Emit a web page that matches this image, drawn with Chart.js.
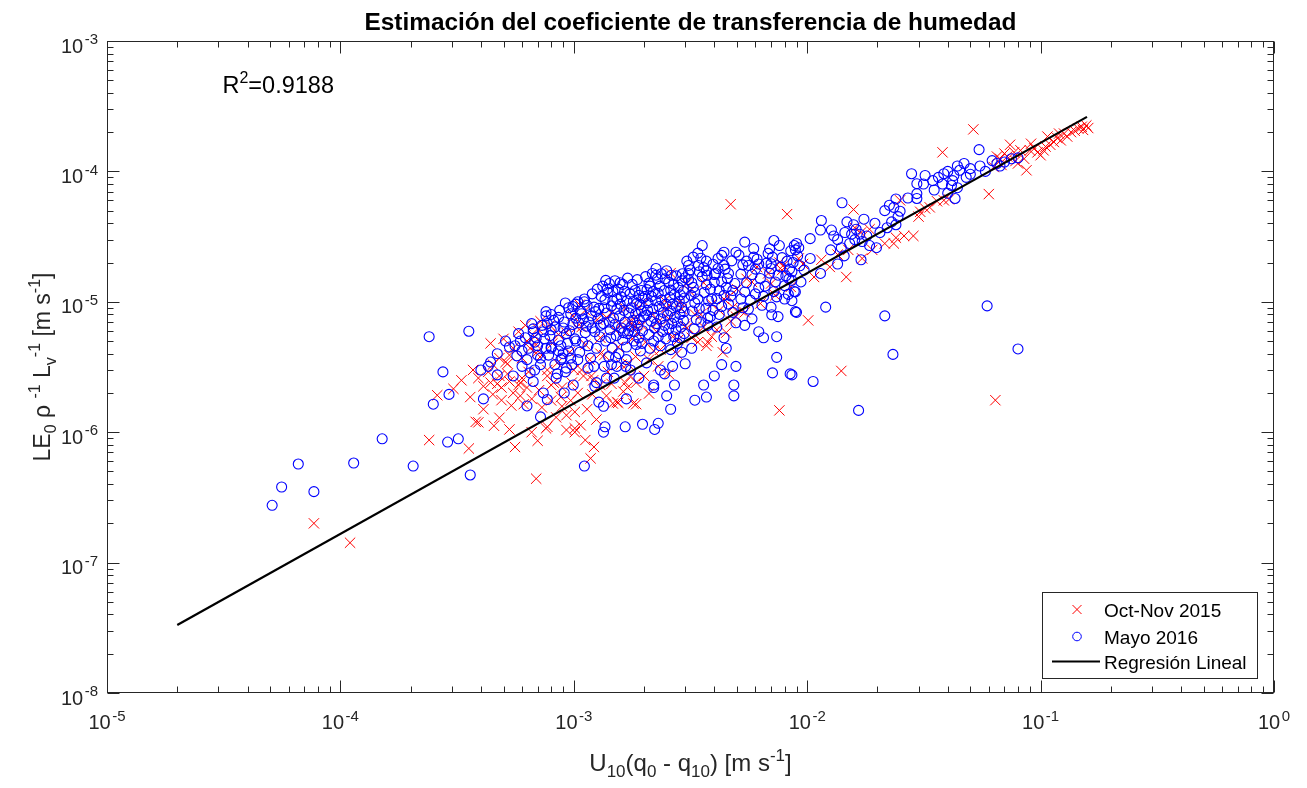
<!DOCTYPE html>
<html>
<head>
<meta charset="utf-8">
<script src="https://cdn.jsdelivr.net/npm/chart.js@4/dist/chart.umd.min.js"></script>
<style>
  html, body { margin: 0; padding: 0; background: #ffffff; }
  #wrap { width: 1307px; height: 788px; }
</style>
</head>
<body>
<div id="wrap"><canvas id="chart" width="1307" height="788"></canvas></div>
<script>
// ---- Axis ranges and tick labels (powers of ten) ----
const xTickExponents = [-5, -4, -3, -2, -1, 0];
const yTickExponents = [-8, -7, -6, -5, -4, -3];

// ---- Regression line end points ----
const regX = [2.0e-5, 0.158];
const regY = [3.32e-8, 2.62e-4];
const rSquared = '0.9188';

// ---- Oct-Nov 2015 campaign: [U10(q0-q10), LE0/(rho Lv)] ----
const octNov2015 = [
  [7.7e-5,2.0e-7],[1.1e-4,1.42e-7],[2.4e-4,8.7e-7],[2.6e-4,1.92e-6],[3.05e-4,2.15e-6],
  [3.7e-4,3.0e-6],[4.1e-4,2.25e-6],[3.6e-4,1.86e-6],[4.1e-4,1.5e-6],[4.5e-4,1.95e-6],[4.9e-4,2.2e-6],
  [4.9e-4,1.76e-6],[3.8e-4,1.2e-6],[3.9e-4,1.19e-6],[4.55e-4,1.12e-6],[4.8e-4,1.29e-6],[5.3e-4,1.05e-6],
  [3.55e-4,7.5e-7],[5.6e-4,7.7e-7],[6.6e-4,1.0e-6],[7.0e-4,8.6e-7],[7.6e-4,1.07e-6],[6.9e-4,4.4e-7],
  [9.3e-4,1.04e-6],[1.01e-3,1.07e-6],[1.07e-3,1.13e-6],[1.12e-3,8.7e-7],[1.22e-3,7.7e-7],[1.18e-3,6.3e-7],
  [8.0e-4,2.3e-6],[8.8e-4,1.86e-6],[9.8e-4,2.4e-6],[1.08e-3,3.0e-6],[1.1e-3,2.7e-6],[1.19e-3,2.7e-6],
  [1.53e-3,1.7e-6],[1.63e-3,2.05e-6],[7.2e-4,7.1e-6],[7.0e-4,6.2e-6],[6.3e-4,5.0e-6],[6.5e-4,4.4e-6],
  [5.3e-4,3.9e-6],[4.8e-4,3.7e-6],[5.1e-4,3.45e-6],[6.0e-4,2.6e-6],[5.9e-4,2.4e-6],[6.9e-4,4.05e-6],
  [7.7e-4,3.0e-6],[8.2e-4,2.4e-6],
  [7.7e-4,1.1e-6],[1.01e-3,1.0e-6],[1.01e-3,1.43e-6],[6.1e-4,1.64e-6],[8.9e-4,1.58e-6],[1.47e-3,1.66e-6],
  [1.55e-3,1.68e-6],[1.85e-3,1.64e-6],
  [4.7e-3,5.6e-5],[8.2e-3,4.7e-5],[2.6e-3,1.66e-5],[7.6e-3,1.47e-6],[1.8e-3,1.66e-6],[2.1e-3,1.98e-6],
  [4.35e-3,4.1e-6],[3.75e-3,4.9e-6],[3.4e-3,4.9e-6],[3.2e-3,5.3e-6],[2.2e-3,4.2e-6],[2.55e-3,2.8e-6],
  [1.7e-3,3.35e-6],[1.75e-3,2.7e-6],[1.85e-3,2.4e-6],[2.85e-3,1.0e-5],[3.05e-3,1.38e-5],[3.6e-3,1.4e-5],
  [4.6e-3,1.09e-5],[4.8e-3,9.1e-6],[5.5e-3,1.5e-5],[6.1e-3,1.85e-5],[7.0e-3,1.38e-5],[7.6e-3,2.0e-5],
  [7.8e-3,1.75e-5],[5.2e-3,8.6e-6],[1.8e-3,6.8e-6],[1.85e-3,7.7e-6],[3.05e-3,6.3e-6],[4.95e-3,7.7e-6],
  [1.12e-3,8.6e-6],[1.03e-3,6.4e-6],[1.3e-3,4.0e-6],[1.58e-3,6.6e-6],[1.83e-3,6.4e-6],[2.0e-3,1.0e-5],
  [6.9e-4,4.7e-6],[5.2e-4,3.35e-6],
  [5.5e-4,4.4e-6],[6.0e-4,3.7e-6],[6.4e-4,2.9e-6],[5.8e-4,2.3e-6],[6.8e-4,5.4e-6],[7.3e-4,3.9e-6],
  [7.7e-4,2.7e-6],[8.1e-4,4.8e-6],[8.5e-4,3.4e-6],[8.9e-4,2.2e-6],[9.3e-4,5.8e-6],[9.6e-4,4.1e-6],
  [1.0e-3,3.0e-6],[1.04e-3,2.0e-6],[1.08e-3,6.4e-6],[1.12e-3,4.7e-6],[1.17e-3,3.6e-6],[1.21e-3,2.5e-6],
  [1.26e-3,7.3e-6],[1.3e-3,5.3e-6],[1.35e-3,3.9e-6],[1.4e-3,2.9e-6],[1.45e-3,8.2e-6],[1.5e-3,6.1e-6],
  [1.55e-3,4.5e-6],[1.6e-3,3.3e-6],[1.66e-3,2.4e-6],[1.72e-3,7.0e-6],[1.78e-3,5.2e-6],[1.84e-3,3.8e-6],
  [1.9e-3,9.1e-6],[1.96e-3,6.6e-6],[2.03e-3,4.9e-6],[2.1e-3,3.6e-6],[2.18e-3,8.0e-6],[2.26e-3,5.9e-6],
  [2.35e-3,4.3e-6],[2.45e-3,1.02e-5],[2.55e-3,7.4e-6],[2.65e-3,5.4e-6],[2.76e-3,4.0e-6],[2.9e-3,8.8e-6],
  [3.0e-3,6.5e-6],[3.15e-3,1.2e-5],[3.3e-3,5.6e-6],[3.5e-3,8.0e-6],[3.7e-3,4.6e-6],[3.9e-3,9.6e-6],
  [4.1e-3,6.1e-6],[4.4e-3,1.05e-5],[4.7e-3,7.1e-6],[5.0e-3,1.25e-5],[5.4e-3,8.3e-6],[5.8e-3,1.42e-5],
  [6.3e-3,9.7e-6],[6.8e-3,1.65e-5],[7.3e-3,1.12e-5],[7.9e-3,1.9e-5],[8.5e-3,1.3e-5],[9.2e-3,2.15e-5],
  [5.0e-4,5.2e-6],[4.5e-4,3.3e-6],[4.8e-4,2.7e-6],
  [3.9e-4,2.6e-6],[4.3e-4,2.9e-6],[4.4e-4,2.4e-6],[4.7e-4,2.35e-6],[5.2e-4,2.8e-6],[5.5e-4,2.0e-6],
  [5.4e-4,1.6e-6],[5.9e-4,1.9e-6],[6.3e-4,2.2e-6],[6.6e-4,1.8e-6],[7.1e-4,2.1e-6],[7.3e-4,1.55e-6],
  [8.4e-4,1.3e-6],[8.0e-4,1.75e-6],[9.3e-4,1.35e-6],[9.7e-4,1.75e-6],[1.14e-3,1.5e-6],[1.2e-3,1.95e-6],
  [1.3e-3,2.3e-6],[1.38e-3,1.9e-6],[1.45e-3,2.35e-6],[1.25e-3,1.25e-6],[1.7e-3,2.2e-6],[2.0e-3,2.7e-6],
  [2.3e-3,3.2e-6],[4.4e-4,4.8e-6],[5.8e-4,5.9e-6],[6.2e-4,6.6e-6],[7.9e-4,6.6e-6],[8.6e-4,5.6e-6],
  [9.9e-4,7.8e-6],[1.06e-3,9.5e-6],[1.38e-3,7.6e-6],[1.66e-3,8.9e-6],[1.88e-3,5.7e-6],[2.3e-3,7.0e-6],
  [2.5e-3,9.0e-6],[2.8e-3,5.1e-6],[3.3e-3,8.0e-6],[3.6e-3,6.4e-6],[3.9e-3,5.4e-6],[4.2e-3,8.6e-6],
  [4.5e-3,5.8e-6],[5.3e-4,2.45e-6],[3.3e-4,2.5e-6],
  [3.8e-2,1.4e-4],[1.58e-2,5.1e-5],[1.47e-2,1.55e-5],[1.01e-2,7.2e-6],[1.4e-2,2.95e-6],[2.5e-2,6.0e-5],
  [3.0e-2,4.5e-5],[3.05e-2,4.9e-5],[2.6e-2,3.2e-5],[2.85e-2,3.2e-5],[2.4e-2,3.1e-5],[2.35e-2,2.8e-5],
  [2.15e-2,2.8e-5],[1.9e-2,2.5e-5],[1.72e-2,2.15e-5],[1.5e-2,2.5e-5],[1.25e-2,1.85e-5],[1.07e-2,1.55e-5],
  [9.6e-3,1.95e-5],[1.15e-2,2.1e-5],[3.2e-2,5.2e-5],[3.35e-2,5.3e-5],[3.85e-2,6.0e-5],[4.05e-2,6.1e-5],
  [3.6e-2,5.9e-5],[1.85e-2,3.6e-5],[1.7e-2,3.4e-5],[1.6e-2,3.7e-5],[1.35e-2,2.3e-5],
  [5.15e-2,2.1e-4],[6.0e-2,6.7e-5],[8.7e-2,1.02e-4],[8.0e-2,1.15e-4],[7.0e-2,1.37e-4],[6.7e-2,1.25e-4],
  [8.2e-2,1.45e-4],[9.1e-2,1.63e-4],[9.7e-2,1.4e-4],[1.0e-1,1.33e-4],[1.03e-1,1.45e-4],[1.07e-1,1.85e-4],
  [1.14e-1,1.68e-4],[1.22e-1,1.73e-4],[1.26e-1,1.95e-4],[1.35e-1,2.0e-4],[1.45e-1,2.13e-4],[1.6e-1,2.15e-4],
  [1.57e-1,2.25e-4],[7.4e-2,1.6e-4],[6.3e-2,1.08e-4],[7.2e-2,1.3e-4],[7.7e-2,1.4e-4],[6.5e-2,1.3e-4],
  [8.5e-2,1.25e-4],[9.4e-2,1.5e-4],[1.1e-1,1.6e-4],[1.18e-1,1.8e-4],[1.3e-1,1.85e-4],[1.4e-1,2.05e-4],
  [1.5e-1,2.2e-4],[1.2e-1,1.95e-4],[1.05e-1,1.55e-4],[9.0e-2,1.45e-4],[1.52e-1,2.08e-4],[7.8e-2,1.2e-4],
  [6.8e-2,1.12e-4],
  [6.4e-2,1.76e-6]
];

// ---- Mayo 2016 campaign ----
const mayo2016 = [
  [5.1e-5,2.75e-7],[5.6e-5,3.8e-7],[6.6e-5,5.7e-7],[7.7e-5,3.5e-7],[1.14e-4,5.8e-7],[1.51e-4,8.9e-7],
  [2.05e-4,5.5e-7],[2.5e-4,1.64e-6],[2.88e-4,8.4e-7],[3.2e-4,8.9e-7],[2.4e-4,5.4e-6],[2.75e-4,2.9e-6],
  [2.92e-4,1.95e-6],
  [3.55e-4,5.95e-6],[1.37e-3,1.46e-5],[3.6e-4,4.7e-7],[4.1e-4,1.8e-6],[6.3e-4,1.59e-6],[7.2e-4,1.31e-6],
  [1.11e-3,5.5e-7],[1.36e-3,1.1e-6],[1.34e-3,1.0e-6],[1.66e-3,1.1e-6],[1.34e-3,1.58e-6],[9.2e-4,9.8e-6],
  [1.11e-3,1.0e-5],[7.6e-4,7.8e-6],[5.8e-4,5.7e-6],[5.1e-4,5.0e-6],[4.7e-4,4.0e-6],[4.4e-4,3.45e-6],
  [4.0e-4,3.0e-6],[4.3e-4,3.2e-6],[4.7e-4,2.75e-6],[5.5e-4,2.7e-6],[6.0e-4,3.2e-6],[6.5e-4,2.85e-6],
  [6.7e-4,2.45e-6],[7.4e-4,2.0e-6],[7.7e-4,1.78e-6],[8.5e-4,2.8e-6],[9.1e-4,2.0e-6],[9.95e-4,2.3e-6],
  [9.3e-4,3.1e-6],[8.9e-4,3.7e-6],[9.5e-4,4.2e-6],[1.04e-3,3.6e-6],[1.22e-3,3.2e-6],[1.35e-3,3.2e-6],
  [1.53e-3,3.2e-6],[1.67e-3,3.2e-6],[1.28e-3,1.7e-6],[1.23e-3,2.25e-6],[1.38e-3,2.6e-6],[1.49e-3,2.6e-6],
  [1.68e-3,1.8e-6],[7.2e-4,3.7e-6],[6.8e-4,4.9e-6],[6.0e-4,4.2e-6],[5.7e-4,3.85e-6],[6.7e-4,5.9e-6],
  [7.5e-4,5.2e-6],[8.0e-4,4.5e-6],[8.6e-4,4.2e-6],[8.0e-4,6.1e-6],[8.6e-4,7.6e-6],[9.3e-4,5.7e-6],
  [1.02e-3,5.0e-6],[1.02e-3,7.5e-6],[1.07e-3,8.5e-6],
  [1.97e-3,1.15e-6],[2.22e-3,1.05e-6],[2.3e-3,1.17e-6],[2.6e-3,1.5e-6],[3.3e-3,1.76e-6],
  [3.55e-3,2.7e-5],[5.4e-3,2.87e-5],[7.2e-3,2.95e-5],[8.8e-3,2.7e-5],[6.9e-3,2.55e-5],[4.95e-3,2.4e-5],
  [5.9e-3,2.2e-5],[4.3e-3,2.27e-5],[4.15e-3,2.15e-5],[4.4e-3,1.9e-5],[3.1e-3,1.9e-5],[2.25e-3,1.6e-5],
  [3.0e-3,1.53e-5],[3.45e-3,1.7e-5],[3.7e-3,1.73e-5],[4.0e-3,1.62e-5],[5.6e-3,1.9e-5],[7.0e-3,1.8e-5],
  [8.35e-3,1.5e-5],[8.8e-3,1.2e-5],[8.0e-3,1.05e-5],[7.4e-3,1.09e-5],[8.9e-3,8.4e-6],[7.0e-3,9.1e-6],
  [7.05e-3,7.95e-6],[7.5e-3,7.7e-6],[6.2e-3,5.9e-6],[6.5e-3,5.3e-6],[7.4e-3,5.4e-6],[5.4e-3,6.6e-6],
  [7.4e-3,3.75e-6],[7.1e-3,2.85e-6],[8.45e-3,2.8e-6],[4.95e-3,3.2e-6],[4.3e-3,3.3e-6],[4.0e-3,2.7e-6],
  [3.6e-3,2.3e-6],[3.7e-3,1.86e-6],[4.85e-3,2.3e-6],[4.85e-3,1.9e-6],[2.7e-3,2.3e-6],[2.5e-3,1.9e-6],
  [2.45e-3,2.8e-6],[3.0e-3,3.35e-6],[2.2e-3,2.3e-6],[2.6e-3,4.3e-6],[4.5e-3,4.4e-6],[4.4e-3,5.3e-6],
  [4.1e-3,6.4e-6],[3.75e-3,7.5e-6],
  [1.41e-2,5.75e-5],[1.15e-2,4.2e-5],[1.14e-2,3.55e-5],[1.03e-2,3.05e-5],[9.0e-3,2.8e-5],[8.9e-3,2.5e-5],
  [1.03e-2,2.15e-5],[9.7e-3,1.75e-5],[8.6e-3,1.46e-5],[9.4e-3,1.42e-5],[8.9e-3,1.19e-5],[8.6e-3,1.02e-5],
  [9.0e-3,8.3e-6],[1.2e-2,9.1e-6],[2.15e-2,7.8e-6],[2.33e-2,3.95e-6],[8.6e-3,2.75e-6],[1.06e-2,2.45e-6],
  [1.66e-2,1.47e-6],[1.27e-2,3.55e-5],[1.48e-2,4.1e-5],[1.75e-2,4.3e-5],[1.95e-2,4.0e-5],[2.15e-2,5.0e-5],
  [2.25e-2,5.5e-5],[2.4e-2,6.15e-5],[2.35e-2,5.3e-5],[2.45e-2,4.5e-5],[2.5e-2,4.95e-5],[2.4e-2,3.9e-5],
  [2.7e-2,6.25e-5],[2.8e-2,9.6e-5],[2.95e-2,8.05e-5],[2.95e-2,6.75e-5],[2.95e-2,6.2e-5],[3.15e-2,8.0e-5],
  [3.2e-2,9.3e-5],[3.45e-2,8.5e-5],[3.85e-2,9.6e-5],[4.0e-2,1.0e-4],[4.25e-2,9.3e-5],[4.4e-2,1.1e-4],
  [4.3e-2,6.2e-5],[4.15e-2,7.8e-5],[1.35e-2,3.0e-5],[1.4e-2,2.6e-5],[1.52e-2,2.8e-5],[1.44e-2,2.25e-5],
  [1.98e-2,2.6e-5],[1.7e-2,2.1e-5],[1.26e-2,2.5e-5],[1.35e-2,1.95e-5],[1.14e-2,1.65e-5],
  [1.55e-2,3.3e-5],[1.62e-2,3.6e-5],[1.6e-2,3.0e-5],[1.68e-2,3.3e-5],[1.72e-2,2.9e-5],[1.8e-2,3.2e-5],
  [1.58e-2,3.9e-5],[1.3e-2,3.2e-5],[1.45e-2,3.4e-5],[1.85e-2,2.7e-5],[2.05e-2,3.4e-5],[2.2e-2,3.7e-5],
  [2.3e-2,4.1e-5],
  [5.45e-2,1.47e-4],[5.9e-2,9.3e-6],[8.0e-2,1.27e-4],[7.0e-2,1.18e-4],[6.2e-2,1.21e-4],[8.0e-2,4.35e-6],
  [4.5e-2,1.02e-4],[5.0e-2,1.05e-4],[4.8e-2,9.0e-5],[4.2e-2,8.5e-5],[5.5e-2,1.1e-4],[5.8e-2,1.0e-4],
  [6.5e-2,1.15e-4],[7.5e-2,1.25e-4],[3.8e-2,8.0e-5],[3.5e-2,7.2e-5],[4.0e-2,6.8e-5],[4.4e-2,7.5e-5],
  [5.0e-2,9.5e-5],[6.7e-2,1.1e-4],[3.65e-2,9.0e-5],[4.7e-2,1.15e-4],
  [8.0e-4,8.0e-6],[7.7e-4,6.8e-6],[6.7e-4,6.2e-6],[1.51e-3,3.75e-6],[1.68e-3,3.6e-6],
  [1.02e-3,9.6e-6],[1.08e-3,8.1e-6],[1.05e-3,6.9e-6],[1.12e-3,5.8e-6],[1.01e-3,5.2e-6],[1.15e-3,4.6e-6],
  [1.06e-3,4.1e-6],[1.18e-3,3.7e-6],[1.22e-3,9.1e-6],[1.27e-3,7.4e-6],[1.2e-3,6.3e-6],[1.29e-3,5.4e-6],
  [1.25e-3,4.4e-6],[1.11e-3,1.05e-5],[1.24e-3,8.4e-6],[1.16e-3,7.0e-6],[1.3e-3,6.6e-6],[1.09e-3,4.9e-6],
  [1.33e-3,1.32e-5],[1.4e-3,1.18e-5],[1.36e-3,1.04e-5],[1.45e-3,9.3e-6],[1.38e-3,8.2e-6],[1.48e-3,7.5e-6],
  [1.34e-3,6.8e-6],[1.43e-3,6.1e-6],[1.52e-3,5.5e-6],[1.37e-3,5.0e-6],[1.46e-3,4.4e-6],[1.41e-3,3.8e-6],
  [1.55e-3,1.25e-5],[1.6e-3,1.09e-5],[1.58e-3,9.6e-6],[1.64e-3,8.6e-6],[1.57e-3,7.8e-6],[1.66e-3,7.0e-6],
  [1.6e-3,6.3e-6],[1.7e-3,5.7e-6],[1.62e-3,5.1e-6],[1.68e-3,4.5e-6],[1.56e-3,4.0e-6],[1.74e-3,1.15e-5],
  [1.78e-3,1.36e-5],[1.8e-3,1.01e-5],[1.76e-3,9.0e-6],[1.84e-3,8.1e-6],[1.79e-3,7.2e-6],[1.88e-3,6.6e-6],
  [1.82e-3,5.9e-6],[1.9e-3,5.3e-6],[1.85e-3,4.7e-6],[1.93e-3,4.2e-6],[1.95e-3,1.22e-5],[1.98e-3,1.07e-5],
  [1.92e-3,9.5e-6],[1.5e-3,1.45e-5],[1.7e-3,1.52e-5],[1.53e-3,8.8e-6],[1.72e-3,6.0e-6],[1.87e-3,1.48e-5],
  [1.99e-3,7.7e-6],[1.47e-3,1.01e-5],[1.65e-3,1.2e-5],
  [2.03e-3,1.56e-5],[2.1e-3,1.39e-5],[2.06e-3,1.24e-5],[2.15e-3,1.1e-5],[2.08e-3,9.8e-6],[2.18e-3,8.8e-6],
  [2.05e-3,7.9e-6],[2.14e-3,7.1e-6],[2.22e-3,6.3e-6],[2.1e-3,5.6e-6],[2.2e-3,5.0e-6],[2.12e-3,4.4e-6],
  [2.28e-3,1.5e-5],[2.34e-3,1.32e-5],[2.3e-3,1.16e-5],[2.38e-3,1.03e-5],[2.32e-3,9.2e-6],[2.42e-3,8.3e-6],
  [2.36e-3,7.4e-6],[2.45e-3,6.6e-6],[2.4e-3,5.9e-6],[2.48e-3,5.2e-6],[2.35e-3,4.6e-6],[2.55e-3,1.41e-5],
  [2.6e-3,1.23e-5],[2.58e-3,1.08e-5],[2.65e-3,9.6e-6],[2.6e-3,8.5e-6],[2.7e-3,7.6e-6],[2.63e-3,6.8e-6],
  [2.74e-3,6.1e-6],[2.68e-3,5.4e-6],[2.78e-3,4.8e-6],[2.8e-3,1.29e-5],[2.86e-3,1.13e-5],[2.83e-3,1.01e-5],
  [2.9e-3,9.0e-6],[2.85e-3,8.0e-6],[2.95e-3,7.2e-6],[2.88e-3,6.4e-6],[2.97e-3,5.7e-6],[2.92e-3,1.64e-5],
  [2.5e-3,1.73e-5],[2.25e-3,1.8e-5],[2.75e-3,1.58e-5],
  [3.05e-3,2.05e-5],[3.15e-3,1.76e-5],[3.1e-3,1.48e-5],[3.25e-3,1.29e-5],[3.18e-3,1.12e-5],[3.3e-3,9.8e-6],
  [3.22e-3,8.5e-6],[3.35e-3,7.3e-6],[3.28e-3,6.2e-6],[3.5e-3,2.16e-5],[3.6e-3,1.83e-5],[3.55e-3,1.56e-5],
  [3.7e-3,1.35e-5],[3.62e-3,1.18e-5],[3.78e-3,1.02e-5],[3.68e-3,8.9e-6],[3.85e-3,7.7e-6],[3.75e-3,6.6e-6],
  [3.95e-3,1.94e-5],[4.05e-3,1.65e-5],[4.0e-3,1.41e-5],[4.2e-3,1.22e-5],[4.1e-3,1.06e-5],[4.3e-3,9.2e-6],
  [4.2e-3,8.0e-6],[4.45e-3,1.78e-5],[4.55e-3,1.51e-5],[4.5e-3,1.29e-5],[4.7e-3,1.11e-5],[4.6e-3,9.6e-6],
  [4.8e-3,8.3e-6],[4.75e-3,2.06e-5],[4.9e-3,1.38e-5],[4.95e-3,6.9e-6],[3.4e-3,2.36e-5],[4.4e-3,2.4e-5],
  [5.1e-3,2.28e-5],[5.3e-3,1.92e-5],[5.2e-3,1.63e-5],[5.5e-3,1.4e-5],[5.4e-3,1.19e-5],[5.7e-3,1.03e-5],
  [5.6e-3,8.8e-6],[5.9e-3,2.56e-5],[6.1e-3,2.12e-5],[6.0e-3,1.78e-5],[6.3e-3,1.51e-5],[6.2e-3,1.28e-5],
  [6.5e-3,1.1e-5],[6.4e-3,9.4e-6],[6.8e-3,2.35e-5],[7.0e-3,1.96e-5],[6.9e-3,1.66e-5],[7.3e-3,1.42e-5],
  [7.2e-3,1.2e-5],[7.6e-3,2.7e-5],[7.8e-3,2.18e-5],[7.7e-3,1.85e-5],[8.1e-3,1.58e-5],[8.0e-3,1.33e-5],
  [8.5e-3,2.46e-5],[8.7e-3,2.0e-5],[8.6e-3,1.7e-5],[9.1e-3,2.25e-5],[9.3e-3,1.89e-5],[9.2e-3,2.6e-5],
  [8.3e-3,1.14e-5],[5.8e-3,7.4e-6],
  [6.2e-4,5.3e-6],[6.6e-4,6.8e-6],[7.0e-4,4.6e-6],[7.4e-4,5.9e-6],[7.8e-4,3.9e-6],[7.2e-4,3.3e-6],
  [8.2e-4,7.2e-6],[8.6e-4,5.1e-6],[8.0e-4,4.4e-6],[9.0e-4,6.3e-6],[9.4e-4,4.8e-6],[8.8e-4,3.6e-6],
  [9.7e-4,8.1e-6],[9.2e-4,2.9e-6],[8.4e-4,2.6e-6],[9.8e-4,3.3e-6],[7.6e-4,8.4e-6],[6.8e-4,3.0e-6],
  [1.15e-3,3.1e-6],[1.45e-3,3.3e-6],[1.75e-3,3.0e-6],[2.05e-3,3.4e-6],[2.35e-3,3.0e-6],[2.65e-3,3.2e-6],
  [2.9e-3,4.1e-6],[3.2e-3,4.4e-6],[1.25e-3,2.4e-6],[1.9e-3,2.6e-6],[2.2e-3,2.2e-6],
  [1.04e-3,1.0e-5],[1.14e-3,9.4e-6],[1.19e-3,7.8e-6],[1.1e-3,7.4e-6],[1.23e-3,5.9e-6],[1.13e-3,6.5e-6],
  [1.28e-3,8.9e-6],[1.31e-3,1.1e-5],[1.2e-3,1.15e-5],[1.26e-3,1.25e-5],[1.35e-3,9.0e-6],[1.42e-3,7.0e-6],
  [1.5e-3,6.7e-6],[1.44e-3,5.3e-6],[1.39e-3,1.25e-5],[1.47e-3,1.2e-5],[1.53e-3,1.05e-5],[1.62e-3,1.36e-5],
  [1.69e-3,1.02e-5],[1.72e-3,8.2e-6],[1.63e-3,5.8e-6],[1.77e-3,6.5e-6],[1.83e-3,1.22e-5],[1.9e-3,1.12e-5],
  [1.86e-3,9.7e-6],[1.95e-3,8.5e-6],[1.91e-3,7.3e-6],[1.97e-3,6.0e-6],[1.81e-3,5.0e-6],[1.96e-3,4.8e-6],
  [1.42e-3,1.38e-5],[1.58e-3,1.4e-5],
  [2.02e-3,1.1e-5],[2.07e-3,8.6e-6],[2.12e-3,1.32e-5],[2.19e-3,1.2e-5],[2.24e-3,1.02e-5],[2.2e-3,7.6e-6],
  [2.26e-3,6.8e-6],[2.3e-3,5.4e-6],[2.44e-3,1.22e-5],[2.48e-3,9.6e-6],[2.52e-3,7.9e-6],[2.55e-3,6.2e-6],
  [2.46e-3,1.5e-5],[2.68e-3,1.36e-5],[2.7e-3,1.14e-5],[2.75e-3,9.2e-6],[2.78e-3,7.0e-6],[2.62e-3,1.6e-5],
  [2.9e-3,1.45e-5],[2.95e-3,1.2e-5],[2.98e-3,1.07e-5],[2.97e-3,8.4e-6],[2.85e-3,5.3e-6],[2.17e-3,1.65e-5],
  [2.37e-3,1.64e-5],
  [3.1e-3,1.65e-5],[3.2e-3,1.4e-5],[3.3e-3,1.18e-5],[3.4e-3,1.05e-5],[3.45e-3,8.9e-6],[3.5e-3,7.0e-6],
  [3.42e-3,1.9e-5],[3.72e-3,1.6e-5],[3.85e-3,1.25e-5],[3.9e-3,1.05e-5],[3.95e-3,8.6e-6],[4.15e-3,1.8e-5],
  [4.3e-3,1.42e-5],[4.4e-3,1.12e-5],[4.6e-3,1.65e-5],[4.8e-3,1.22e-5],[3.25e-3,2.2e-5],[3.7e-3,2.05e-5],
  [5.6e-4,4.6e-6],[5.9e-4,5.0e-6],[6.4e-4,4.4e-6],[6.9e-4,5.3e-6],[7.3e-4,6.6e-6],[7.9e-4,5.5e-6],
  [8.3e-4,6.4e-6],[8.8e-4,4.6e-6],[9.1e-4,7.0e-6],[9.6e-4,6.0e-6],[9.9e-4,6.7e-6],[9.5e-4,9.0e-6],
  [8.7e-4,8.6e-6],[9.9e-4,9.2e-6],[7.0e-4,3.9e-6],[7.6e-4,4.4e-6],[8.3e-4,3.3e-6],[9.0e-4,4.0e-6],
  [9.7e-4,3.7e-6],[5.3e-4,4.5e-6],[6.3e-4,3.6e-6],
  [5.2e-3,1.05e-5],[5.5e-3,2.05e-5],[5.8e-3,1.62e-5],[6.2e-3,1.95e-5],[6.6e-3,1.32e-5],[6.7e-3,1.98e-5],
  [7.1e-3,2.2e-5],[7.5e-3,1.6e-5],[8.2e-3,2.05e-5],[8.4e-3,1.78e-5],[5.3e-3,9.0e-6],[6.0e-3,1.15e-5]
];

// ---- Text ----
const titleText = 'Estimación del coeficiente de transferencia de humedad';
const legendLabels = ['Oct-Nov 2015', 'Mayo 2016', 'Regresión Lineal'];
const FONT = '"Liberation Sans", Arial, Helvetica, sans-serif';
const AXIS_COLOR = '#262626';

const toPoints = arr => arr.map(p => ({ x: p[0], y: p[1] }));

// Draws a run of text pieces ('n' normal, 'sub', 'sup') starting at x on baseline y.
function richRun(ctx, parts, x, y, size, small, draw, gap) {
  let cx = x;
  for (const [t, k] of parts) {
    ctx.font = (k === 'n' ? size : small) + 'px ' + FONT;
    const dy = k === 'sub' ? size * 0.27 : (k === 'sup' ? -size * 0.42 : 0);
    if (k === 'sup' && gap) cx += gap;
    if (draw) ctx.fillText(t, cx, y + dy);
    cx += ctx.measureText(t).width;
  }
  return cx - x;
}

const frame = {
  id: 'frame',
  beforeDraw(chart) {
    const { ctx, width, height } = chart;
    ctx.save();
    ctx.fillStyle = '#ffffff';
    ctx.fillRect(0, 0, width, height);
    ctx.restore();
  },
  afterDraw(chart) {
    const { ctx, chartArea: a } = chart;
    const xs = chart.scales.x, ys = chart.scales.y;
    ctx.save();
    ctx.strokeStyle = AXIS_COLOR;
    ctx.fillStyle = AXIS_COLOR;
    ctx.lineWidth = 1;

    const L = Math.round(a.left) + 0.5, R = Math.round(a.right) - 0.5;
    const T = Math.round(a.top) + 0.5, B = Math.round(a.bottom) - 0.5;
    ctx.strokeRect(L, T, R - L, B - T);

    // tick marks on all four sides, pointing inward
    ctx.beginPath();
    for (let i = 0; i < xTickExponents.length; i++) {
      const e = xTickExponents[i];
      for (let m = 1; m <= 9; m++) {
        if (m > 1 && i === xTickExponents.length - 1) break;
        const px = Math.round(xs.getPixelForValue(m * Math.pow(10, e))) + 0.5;
        const len = m === 1 ? 12 : 6;
        ctx.moveTo(px, B); ctx.lineTo(px, B - len);
        ctx.moveTo(px, T); ctx.lineTo(px, T + len);
      }
    }
    for (let i = 0; i < yTickExponents.length; i++) {
      const e = yTickExponents[i];
      for (let m = 1; m <= 9; m++) {
        if (m > 1 && i === yTickExponents.length - 1) break;
        const py = Math.round(ys.getPixelForValue(m * Math.pow(10, e))) + 0.5;
        const len = m === 1 ? 12 : 6;
        ctx.moveTo(L, py); ctx.lineTo(L + len, py);
        ctx.moveTo(R, py); ctx.lineTo(R - len, py);
      }
    }
    ctx.stroke();

    // tick labels: 10 with superscript exponent
    ctx.textBaseline = 'alphabetic';
    ctx.textAlign = 'left';
    for (const e of xTickExponents) {
      const px = xs.getPixelForValue(Math.pow(10, e));
      const parts = [['10', 'n'], [String(e), 'sup']];
      const w = richRun(ctx, parts, 0, 0, 20, 15, false, 1.5);
      richRun(ctx, parts, px - w / 2, a.bottom + 36, 20, 15, true, 1.5);
    }
    for (const e of yTickExponents) {
      const py = ys.getPixelForValue(Math.pow(10, e));
      const parts = [['10', 'n'], [String(e), 'sup']];
      const w = richRun(ctx, parts, 0, 0, 20, 15, false, 1.5);
      richRun(ctx, parts, a.left - 9 - w, py + 11.5, 20, 15, true, 1.5);
    }

    // title
    ctx.fillStyle = '#000000';
    ctx.font = 'bold 24.4px ' + FONT;
    ctx.textAlign = 'center';
    ctx.fillText(titleText, (a.left + a.right) / 2, 30);
    ctx.textAlign = 'left';

    // axis labels
    ctx.fillStyle = AXIS_COLOR;
    const xLabel = [['U', 'n'], ['10', 'sub'], ['(q', 'n'], ['0', 'sub'], [' - q', 'n'], ['10', 'sub'],
                    [') [m s', 'n'], ['-1', 'sup'], [']', 'n']];
    const wx = richRun(ctx, xLabel, 0, 0, 24, 17, false);
    richRun(ctx, xLabel, (a.left + a.right) / 2 - wx / 2, 771, 24, 17, true);

    const yLabel = [['LE', 'n'], ['0', 'sub'], [' \u03C1 ', 'n'], ['-1', 'sup'], [' L', 'n'], ['v', 'sub'],
                    ['-1', 'sup'], [' [m s', 'n'], ['-1', 'sup'], [']', 'n']];
    const wy = richRun(ctx, yLabel, 0, 0, 23, 16, false);
    ctx.save();
    ctx.translate(50, (a.top + a.bottom) / 2);
    ctx.rotate(-Math.PI / 2);
    richRun(ctx, yLabel, -wy / 2, 0, 23, 16, true);
    ctx.restore();

    // R squared annotation
    ctx.fillStyle = '#000000';
    richRun(ctx, [['R', 'n'], ['2', 'sup'], ['=' + rSquared, 'n']], 222.5, 93.3, 23.5, 16, true);

    // legend
    const lx0 = 1042.5, ly0 = 592.5, lw = 215, lh = 86;
    ctx.fillStyle = '#ffffff';
    ctx.fillRect(lx0, ly0, lw, lh);
    ctx.strokeStyle = AXIS_COLOR;
    ctx.strokeRect(lx0, ly0, lw, lh);
    const rows = [609.5, 636.5, 661.5];
    ctx.lineWidth = 1;
    ctx.strokeStyle = '#ff0000';
    ctx.beginPath();
    ctx.moveTo(1077 - 4.5, rows[0] - 4.5); ctx.lineTo(1077 + 4.5, rows[0] + 4.5);
    ctx.moveTo(1077 - 4.5, rows[0] + 4.5); ctx.lineTo(1077 + 4.5, rows[0] - 4.5);
    ctx.stroke();
    ctx.strokeStyle = '#0000ff';
    ctx.beginPath();
    ctx.arc(1077, rows[1], 4.3, 0, Math.PI * 2);
    ctx.stroke();
    ctx.strokeStyle = '#000000';
    ctx.lineWidth = 2;
    ctx.beginPath();
    ctx.moveTo(1052, rows[2]); ctx.lineTo(1100, rows[2]);
    ctx.stroke();
    ctx.fillStyle = '#000000';
    ctx.font = '19px ' + FONT;
    legendLabels.forEach((t, i) => ctx.fillText(t, 1104, rows[i] + 7.5));

    ctx.restore();
  }
};

new Chart(document.getElementById('chart'), {
  type: 'scatter',
  data: {
    datasets: [
      {
        label: legendLabels[2],
        data: [{ x: regX[0], y: regY[0] }, { x: regX[1], y: regY[1] }],
        showLine: true,
        borderColor: '#000000',
        borderWidth: 2.2,
        pointRadius: 0,
        order: 0
      },
      {
        label: legendLabels[1],
        data: toPoints(mayo2016),
        pointStyle: 'circle',
        pointRadius: 5,
        pointBorderWidth: 1.1,
        pointBorderColor: '#0000ff',
        pointBackgroundColor: 'rgba(0,0,0,0)',
        order: 1
      },
      {
        label: legendLabels[0],
        data: toPoints(octNov2015),
        pointStyle: 'crossRot',
        pointRadius: 7.3,
        pointBorderWidth: 1,
        pointBorderColor: '#ff0000',
        pointBackgroundColor: '#ff0000',
        order: 2
      }
    ]
  },
  options: {
    responsive: false,
    animation: false,
    devicePixelRatio: 1,
    layout: { padding: { left: 107, top: 41, right: 33, bottom: 95 } },
    plugins: {
      legend: { display: false },
      tooltip: { enabled: false },
      title: { display: false }
    },
    scales: {
      x: { type: 'logarithmic', min: 1e-5, max: 1, display: false },
      y: { type: 'logarithmic', min: 1e-8, max: 1e-3, display: false }
    }
  },
  plugins: [frame]
});
</script>
</body>
</html>
